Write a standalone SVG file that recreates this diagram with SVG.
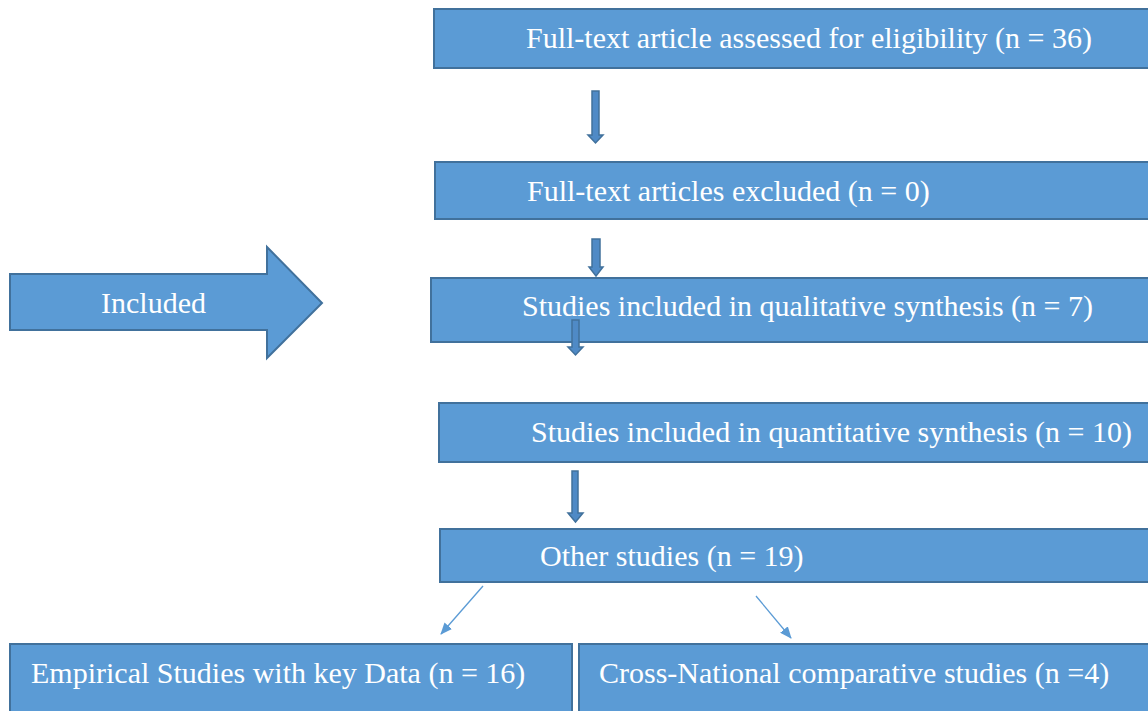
<svg xmlns="http://www.w3.org/2000/svg" width="1148" height="711" viewBox="0 0 1148 711">
<defs>
<style>
.box{fill:#5B9BD5;stroke:#41719C;stroke-width:2}
.blk{fill:#4F8AC6;stroke:#41719C;stroke-width:1.5}
.t{font-family:"Liberation Serif","Times New Roman",serif;font-size:30px;fill:#FFFFFF}
.thin{stroke:#5B9BD5;stroke-width:1.3;fill:none}
</style>
<marker id="ah" markerWidth="12" markerHeight="10" refX="11" refY="5" orient="auto" markerUnits="userSpaceOnUse">
<path d="M0,0 L12,5 L0,10 Z" fill="#5B9BD5"/>
</marker>
</defs>
<rect width="1148" height="711" fill="#FFFFFF"/>
<g id="n1"><rect class="box" x="434" y="9" width="730" height="59"/><text class="t" x="526" y="48">Full-text article assessed for eligibility (n = 36)</text></g>
<g id="n2"><rect class="box" x="435" y="162" width="730" height="57"/><text class="t" x="527" y="201">Full-text articles excluded (n = 0)</text></g>
<g id="n3"><rect class="box" x="431" y="278" width="730" height="64"/><text class="t" x="522" y="316">Studies included in qualitative synthesis (n = 7)</text></g>
<g id="n4"><rect class="box" x="439" y="403" width="730" height="59"/><text class="t" x="531" y="442">Studies included in quantitative synthesis (n = 10)</text></g>
<g id="n5"><rect class="box" x="440" y="529" width="730" height="53"/><text class="t" x="540" y="566">Other studies (n = 19)</text></g>
<g id="n6"><rect class="box" x="10" y="644" width="562" height="80"/><text class="t" x="31" y="683">Empirical Studies with key Data (n = 16)</text></g>
<g id="n7"><rect class="box" x="579" y="644" width="590" height="80"/><text class="t" x="599" y="683">Cross-National comparative studies (n =4)</text></g>
<g id="included"><path class="box" d="M10,274 L267,274 L267,247 L322,303 L267,358 L267,330 L10,330 Z"/><text class="t" x="101" y="313">Included</text></g>
<g id="connectors">
<path class="blk" d="M592,91 L599,91 L599,135 L603,135 L595.5,143 L588,135 L592,135 Z"/>
<path class="blk" d="M592,239 L600,239 L600,267 L603,267 L596,276 L589,267 L592,267 Z"/>
<path class="blk" d="M572,320 L579,320 L579,347 L583,347 L575.5,355 L568,347 L572,347 Z"/>
<path class="blk" d="M572,471 L578,471 L578,513 L583,513 L575.5,522 L568,513 L572,513 Z"/>
<line class="thin" x1="483" y1="586" x2="441" y2="634" marker-end="url(#ah)"/>
<line class="thin" x1="756" y1="596" x2="791" y2="638" marker-end="url(#ah)"/>
</g>
</svg>
